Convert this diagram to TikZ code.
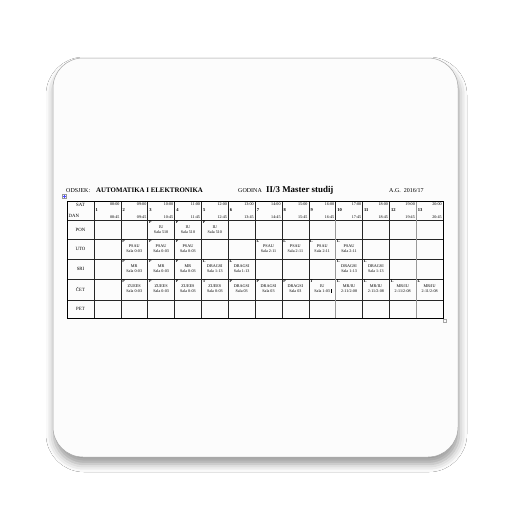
\documentclass[tikz,border=0pt]{standalone}
\usepackage{fontspec}
\setmainfont{Liberation Serif}
\usetikzlibrary{shadows.blur}

\tikzset{
  grid/.style={line width=0.45pt, black!85},
  sepline/.style={line width=1.1pt, black!40},
  timetext/.style={inner sep=0pt, font=\fontsize{4.1}{4.5}\selectfont},
  numtext/.style={inner sep=0pt, font=\fontsize{4.5}{5}\selectfont\bfseries},
  daytext/.style={inner sep=0pt, font=\fontsize{4.8}{5.2}\selectfont},
  typetext/.style={inner sep=0pt, font=\fontsize{4}{4.4}\selectfont\bfseries},
  slottext/.style={inner sep=0pt, font=\fontsize{4.2}{4.6}\selectfont},
  roomtext/.style={inner sep=0pt, font=\fontsize{4.1}{4.5}\selectfont},
  titletext/.style={inner sep=0pt, anchor=base west, font=\fontsize{6}{7}\selectfont}
}

% one lesson: column, row (0 = PON), type, subject, room
\newcommand{\slot}[5]{%
  \pgfmathsetmacro{\xl}{94+(#1-1)*26.85}
  \pgfmathsetmacro{\yt}{{220,239,259,279,300}[#2]}
  \node[typetext, anchor=north west] (t#1r#2) at (\xl+1.2, \yt+0.8) {#3};
  \node[slottext] (u#1r#2) at (\xl+13.4, \yt+7.2) {#4};
  \node[roomtext] (r#1r#2) at (\xl+13.4, \yt+12) {#5};
}

\begin{document}
\begin{tikzpicture}[x=1pt, y=-1pt]
		%%%%% START %%%%%
		\useasboundingbox (0, 0) rectangle (512, 512);
		\fill[white] (0, 0) rectangle (512, 512);
		
		% the card
		\draw[draw=black!35, line width=0.5pt, fill=black!1, rounded corners=30pt,
		  blur shadow={shadow xshift=1pt, shadow yshift=-7pt, shadow blur radius=8pt, shadow opacity=40}]
		  (53, 58) rectangle (458, 457);
		
		% heading
		\node[titletext] (dept) at (66, 192) {ODSJEK:};
		\node[titletext, font=\fontsize{6.9}{7.5}\selectfont\bfseries] (deptname) at (96, 192) {AUTOMATIKA I ELEKTRONIKA};
		\node[titletext] (year) at (238, 192) {GODINA};
		\node[titletext, font=\fontsize{8.9}{9.5}\selectfont\bfseries] (study) at (266, 192) {II/3 Master studij};
		\node[titletext] (ag) at (389, 192) {A.G.\enspace 2016/17};
		
		% table handles
		\draw[black!40, fill=white, line width=0.3pt] (62, 194) rectangle (66.5, 198.5);
		\draw[blue!70, line width=0.4pt] (64.25, 194.8) -- (64.25, 197.7) (62.8, 196.25) -- (65.7, 196.25);
		\draw[black!35, line width=0.3pt] (443.5, 319.5) rectangle (446, 322);
		
		% grid
		\foreach \y in {220, 239, 259, 279, 300}
		  \draw[grid] (67, \y) -- (443, \y);
		\draw[grid] (94, 201) -- (94, 318);
		\foreach \n in {1,...,12}
		  \draw[grid] ({94+\n*26.85}, 201) -- ({94+\n*26.85}, 318);
		\draw[sepline] ({94+9*26.85}, 220) -- ({94+9*26.85}, 318);
		\draw[sepline] ({94+12*26.85}, 201) -- ({94+12*26.85}, 318);
		\draw[line width=0.6pt] (67, 201) rectangle (443, 318);
		
		% header row
		\node[daytext] (sat) at (80.5, 204.5) {SAT};
		\node[daytext, anchor=west] (dan) at (68.5, 216) {DAN};
		\foreach \n [evaluate=\n as \h using int(7+\n)] in {1,...,13} {
		  \node[timetext, anchor=north east] (from\n) at ({94+\n*26.85-1.2}, 202.3) {\ifnum\h<10 0\fi\h:00};
		  \node[numtext, anchor=west] (hour\n) at ({94+(\n-1)*26.85+1.5}, 210) {\n};
		  \node[timetext, anchor=south east] (to\n) at ({94+\n*26.85-1.2}, 218.5) {\ifnum\h<10 0\fi\h:45};
		}
		
		% days
		\node[daytext] (pon) at (80.5, 229.5) {PON};
		\node[daytext] (uto) at (80.5, 249) {UTO};
		\node[daytext] (sri) at (80.5, 269) {SRI};
		\node[daytext] (cet) at (80.5, 289.5) {ČET};
		\node[daytext] (pet) at (80.5, 309) {PET};
		
		% PON
		\foreach \c in {3,4,5} {\slot{\c}{0}{P}{IU}{Sala 510}}
		
		% UTO
		\foreach \c in {2,3,4} {\slot{\c}{1}{P}{PSAU}{Sala 0-03}}
		\foreach \c in {7,8,9,10} {\slot{\c}{1}{L}{PSAU}{Sala 2-11}}
		
		% SRI
		\foreach \c in {2,3,4} {\slot{\c}{2}{P}{MR}{Sala 0-03}}
		\foreach \c in {5,6,10,11} {\slot{\c}{2}{L}{DRAGSI}{Sala 1-13}}
		
		% CET
		\foreach \c in {2,3,4} {\slot{\c}{3}{P}{ZUEES}{Sala 0-03}}
		\slot{5}{3}{T}{ZUEES}{Sala 0-03}
		\foreach \c in {6,7,8} {\slot{\c}{3}{P}{DRAGSI}{Sala 03}}
		\slot{9}{3}{T}{IU}{Sala 1-03}
		\fill (r9r3.east) ++(0.5, -1.8) rectangle ++(1, 3.6);
		\foreach \c in {10,11,12,13} {\slot{\c}{3}{L}{MR/IU}{2-11/2-08}}
		
		%%%%% END %%%%%
	\end{tikzpicture}
\end{document}
